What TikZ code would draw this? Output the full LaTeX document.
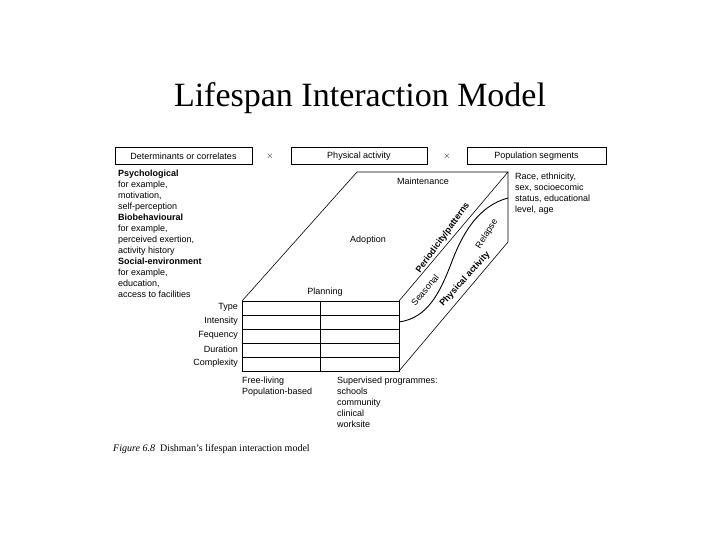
\documentclass[tikz,border=0pt]{standalone}
\usepackage{fontspec}
\setmainfont{Liberation Serif}
\newfontfamily\diagfont{Liberation Sans}
\begin{document}
\begin{tikzpicture}[
    x=1pt, y=-1pt,
    thin, % line style
    lbl/.style={font=\diagfont\fontsize{9}{11}\selectfont, inner sep=0pt},
    hdr/.style={draw, minimum height=17pt, inner sep=0pt, lbl},
    face/.style={draw, line width=0.6pt}
  ]

  \useasboundingbox (0,0) rectangle (720,540);

  \node (title) at (360,98) {\fontsize{34}{38}\selectfont Lifespan Interaction Model};

  % header boxes
  \node[hdr, minimum width=137pt] (det) at (183.5,156) {Determinants or correlates};
  \node[lbl] (x1) at (270,156) {$\times$};
  \node[hdr, minimum width=136pt] (pa) at (359,156) {Physical activity};
  \node[lbl] (x2) at (447,156) {$\times$};
  \node[hdr, minimum width=139pt] (pop) at (536.5,156) {Population segments};

  % cube corners
  \coordinate (fl) at (242,301);
  \coordinate (fr) at (399,301);
  \coordinate (bl) at (242,371);
  \coordinate (br) at (399,371);
  \coordinate (tl) at (357,172);
  \coordinate (tr) at (508,172);
  \coordinate (rb) at (508,242);

  \draw[face] (fl) -- (tl) -- (tr) -- (fr);
  \draw[face] (tr) -- (rb) -- (br);
  \draw[face] (fl) rectangle (br);
  \foreach \y in {315,329,343,357}
    \draw[face] (242,\y) -- (399,\y);
  \draw[face] (320,301) -- (320,371);
  \draw[line width=0.9pt] (399,322) .. controls (428,318) and (440,292) .. (451,264)
    .. controls (462,234) and (478,206) .. (508,198);

  \node[lbl] (maint) at (423,181) {Maintenance};
  \node[lbl] (adopt) at (368,240) {Adoption};
  \node[lbl] (plan) at (325,292) {Planning};
  \node[lbl, rotate=54, font=\diagfont\bfseries\fontsize{9}{11}\selectfont] (period) at (443,238) {Periodicity/patterns};
  \node[lbl, rotate=50] (seas) at (425,290) {Seasonal};
  \node[lbl, rotate=58] (rel) at (487,234) {Relapse};
  \node[lbl, rotate=48, font=\diagfont\bfseries\fontsize{9}{11}\selectfont] (phys) at (465,279) {Physical activity};

  % left column
  \node[lbl, anchor=north west, align=left] (det text) at (118,170)
    {\textbf{Psychological}\\for example,\\motivation,\\self-perception\\
     \textbf{Biobehavioural}\\for example,\\perceived exertion,\\activity history\\
     \textbf{Social-environment}\\for example,\\education,\\access to facilities};

  \node[lbl, anchor=north west, align=left] (pop text) at (515,173)
    {Race, ethnicity,\\sex, socioecomic\\status, educational\\level, age};

  \node[lbl, anchor=east] (type) at (238,307) {Type};
  \node[lbl, anchor=east] (int) at (238,321) {Intensity};
  \node[lbl, anchor=east] (freq) at (238,335) {Fequency};
  \node[lbl, anchor=east] (dur) at (238,349) {Duration};
  \node[lbl, anchor=east] (comp) at (238,363) {Complexity};

  \node[lbl, anchor=north west, align=left] (free) at (242,377)
    {Free-living\\Population-based};
  \node[lbl, anchor=north west, align=left] (sup) at (337,377)
    {Supervised programmes:\\schools\\community\\clinical\\worksite};

  \node[anchor=west, inner sep=0pt] (cap) at (113,449)
    {\fontsize{10}{12}\selectfont\textit{Figure 6.8}\ \ Dishman's lifespan interaction model};

\end{tikzpicture}
\end{document}
